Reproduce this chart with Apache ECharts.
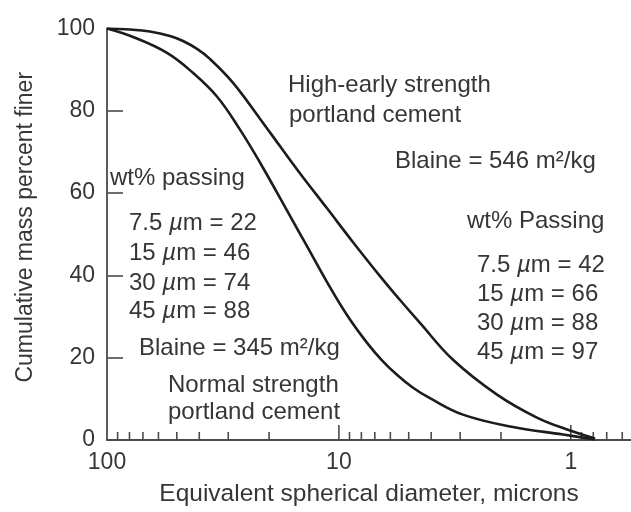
<!DOCTYPE html>
<html>
<head>
<meta charset="utf-8">
<script src="https://cdn.jsdelivr.net/npm/echarts@6/dist/echarts.min.js"></script>
<style>html,body{margin:0;padding:0;background:#fff;}#c{width:631px;height:512px;}</style>
</head>
<body>
<div id="c"></div>
<script>
// Particle diameter (microns) and cumulative mass percent finer
const highEarlyDiam = [100, 79.6, 65.3, 53.5, 47.0, 40.9, 36.0, 28.6, 21.9, 17.9, 14.7, 11.25, 8.69, 6.65, 5.45, 4.47, 3.22, 2.08, 1.40, 1.008, 0.786];
const highEarlyPct  = [100, 99.76, 99.27, 98.18, 96.97, 95.04, 92.62, 86.8, 78.09, 71.31, 64.77, 56.3, 48.06, 39.83, 34.02, 28.45, 19.49, 11.02, 5.45, 2.3, 0.36];
const normalDiam = [100, 77.2, 55.1, 42.6, 33.5, 26.7, 21.9, 16.75, 13.73, 11.25, 9.23, 7.56, 6.52, 5.62, 4.79, 4.05, 2.92, 1.775, 1.08, 0.786];
const normalPct  = [100, 97.94, 94.07, 89.23, 83.41, 75.42, 67.43, 55.8, 47.1, 38.38, 30.39, 23.61, 19.37, 15.86, 12.71, 10.17, 6.17, 3.15, 1.33, 0.12];

const xMajorTicks = [10, 1];
const xMinorTicks = [90, 80, 70, 60, 50, 40, 30, 20, 9, 8, 7, 6, 5, 4, 3, 2, 0.9, 0.8, 0.7, 0.6];

const xTitle = 'Equivalent spherical diameter, microns';
const yTitle = 'Cumulative mass percent finer';

const leftNotes = ['wt% passing', '7.5 {i|µ}m = 22', '15 {i|µ}m = 46', '30 {i|µ}m = 74', '45 {i|µ}m = 88', 'Blaine = 345 m²/kg', 'Normal strength', 'portland cement'];
const rightNotes = ['High-early strength', 'portland cement', 'Blaine = 546 m²/kg', 'wt% Passing', '7.5 {i|µ}m = 42', '15 {i|µ}m = 66', '30 {i|µ}m = 88', '45 {i|µ}m = 97'];

const FONT = '"Liberation Sans", Arial, Helvetica, sans-serif';
const TXT = '#363636';
const AX = '#4a4a4a';

const leftPos = [[110,178],[129,223.5],[129,253],[129,283],[129,311.5],[139,348.5],[168,385],[168,412]];
const rightPos = [[288,85.5],[289,115],[395,161.7],[467,221],[477,265],[477,294],[477,323],[477,352]];

function noteEl(txt, pos){
  return {
    type: 'text', left: pos[0], top: pos[1] - 14, z: 50,
    style: {
      text: txt, fill: TXT, fontSize: 24, fontFamily: FONT,
      lineHeight: 28,
      rich: { i: { fontStyle: 'italic', fontSize: 24, fontFamily: FONT, fill: TXT, lineHeight: 28 } }
    }
  };
}

const graphics = [];
leftNotes.forEach((t, k) => graphics.push(noteEl(t, leftPos[k])));
rightNotes.forEach((t, k) => graphics.push(noteEl(t, rightPos[k])));

function tickSeries(vals, len){
  return {
    type: 'custom',
    coordinateSystem: 'cartesian2d',
    silent: true,
    data: vals.map(v => [v, 0]),
    renderItem: function(params, api){
      const p = api.coord([api.value(0), 0]);
      return { type: 'line', shape: { x1: p[0], y1: p[1], x2: p[0], y2: p[1] - len },
               style: { stroke: AX, lineWidth: 1.6 } };
    },
    z: 5
  };
}

const chart = echarts.init(document.getElementById('c'), null, { renderer: 'canvas' });
chart.setOption({
  animation: false,
  backgroundColor: '#ffffff',
  textStyle: { fontFamily: FONT },
  grid: { left: 107, right: 0, top: 28.5, bottom: 70.5, containLabel: false },
  xAxis: {
    type: 'log', logBase: 10, min: 0.55, max: 100, inverse: true,
    name: xTitle, nameLocation: 'middle', nameGap: 42,
    nameTextStyle: { color: TXT, fontSize: 24.5, fontFamily: FONT },
    axisLine: { lineStyle: { color: AX, width: 1.8 } },
    axisTick: { show: false },
    splitLine: { show: false },
    axisLabel: { color: TXT, fontSize: 23, fontFamily: FONT, margin: 11, showMinLabel: false, showMaxLabel: true,
                 formatter: v => String(Math.round(v)) }
  },
  yAxis: {
    type: 'value', min: 0, max: 100, interval: 20,
    name: yTitle, nameLocation: 'middle', nameGap: 70,
    nameTextStyle: { color: TXT, fontSize: 23, fontFamily: FONT, padding: [0, 0, 0, 14] },
    axisLine: { show: true, lineStyle: { color: AX, width: 1.8 } },
    axisTick: { show: true, inside: true, length: 16, lineStyle: { color: AX, width: 1.6 } },
    splitLine: { show: false },
    axisLabel: { color: TXT, fontSize: 23, fontFamily: FONT, margin: 12 }
  },
  series: [
    {
      name: 'High-early strength portland cement', type: 'line', smooth: 0.4, symbol: 'none',
      data: highEarlyDiam.map((d, k) => [d, highEarlyPct[k]]),
      lineStyle: { color: '#1c1c1c', width: 2.6 }, z: 10
    },
    {
      name: 'Normal strength portland cement', type: 'line', smooth: 0.4, symbol: 'none',
      data: normalDiam.map((d, k) => [d, normalPct[k]]),
      lineStyle: { color: '#1c1c1c', width: 2.6 }, z: 10
    },
    tickSeries(xMinorTicks, 8),
    tickSeries(xMajorTicks, 15)
  ],
  graphic: graphics
});
</script>
</body>
</html>
